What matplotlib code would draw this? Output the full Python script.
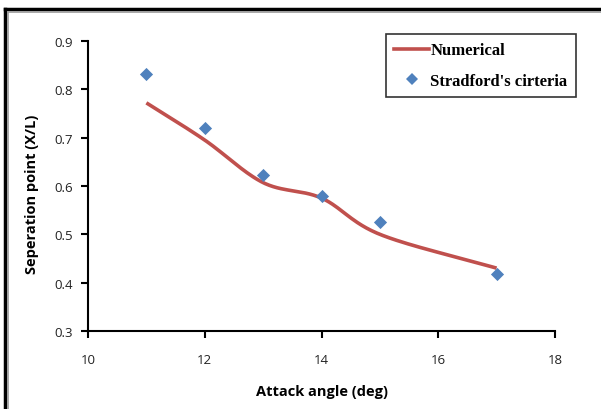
import numpy as np
import matplotlib
matplotlib.use("Agg")
import matplotlib.pyplot as plt
from matplotlib.lines import Line2D

# Data
angles_num = [11, 12, 13, 14, 15, 17]
sep_num = [0.772, 0.695, 0.607, 0.575, 0.500, 0.430]
angles_exp = [11, 12, 13, 14, 15, 17]
sep_exp = [0.832, 0.720, 0.623, 0.579, 0.525, 0.418]
xticks = [10, 12, 14, 16, 18]
yticks = [0.3, 0.4, 0.5, 0.6, 0.7, 0.8, 0.9]


def smooth(xs, ys, n=30):
    # Bezier smoothing through the points (like Excel smoothed line)
    xs = np.asarray(xs, float); ys = np.asarray(ys, float)
    px = np.concatenate([[2*xs[0]-xs[1]], xs, [2*xs[-1]-xs[-2]]])
    py = np.concatenate([[2*ys[0]-ys[1]], ys, [2*ys[-1]-ys[-2]]])
    ox, oy = [], []
    for i in range(1, len(px)-2):
        t = np.linspace(0, 1, n)
        p0, p1, p2, p3 = [np.array([px[j], py[j]]) for j in (i-1, i, i+1, i+2)]
        c1 = p1 + (p2 - p0) / 6
        c2 = p2 - (p3 - p1) / 6
        pts = ((1-t)**3)[:, None]*p1 + (3*(1-t)**2*t)[:, None]*c1 + (3*(1-t)*t**2)[:, None]*c2 + (t**3)[:, None]*p2
        ox.extend(pts[:, 0]); oy.extend(pts[:, 1])
    return np.array(ox), np.array(oy)


fig = plt.figure(figsize=(6.01, 4.10), dpi=100)
W, H = 601, 410
ax = fig.add_axes([88/W, 1-332/H, (555-88)/W, (332-42)/H])

sx, sy = smooth(angles_num, sep_num)
ax.plot(sx, sy, color="#C0504D", lw=2.6, solid_capstyle="butt", zorder=2)
ax.scatter(angles_exp, sep_exp, marker="D", s=45, color="#4F81BD", zorder=3, linewidths=0)

ax.set_xlim(10, 18)
ax.set_ylim(0.3, 0.9)
ax.set_xticks(xticks)
ax.set_yticks(yticks)
ax.set_xticklabels([str(v) for v in xticks])
ax.set_yticklabels([f"{v:.1f}" for v in yticks])
for s in ("top", "right"):
    ax.spines[s].set_visible(False)
for s in ("left", "bottom"):
    ax.spines[s].set_linewidth(1.5)
ax.tick_params(direction="out", length=5, width=1.5, labelsize=9.5, pad=6)
ax.tick_params(axis="x", pad=11)
for lab in ax.get_xticklabels() + ax.get_yticklabels():
    lab.set_fontfamily("Open Sans")
    lab.set_color("#222222")

fig.text(322/W, 1-392/H, "Attack angle (deg)", ha="center", va="center",
         fontsize=10.5, fontweight="bold", family="Open Sans")
fig.text(32/W, 1-194/H, "Seperation point (X/L)", ha="center", va="center",
         rotation=90, fontsize=10.5, fontweight="bold", family="Open Sans")

handles = [Line2D([], [], color="#C0504D", lw=2.6),
           Line2D([], [], marker="D", ls="none", color="#4F81BD", markersize=6.5, markeredgewidth=0)]
leg = fig.legend(handles, ["Numerical", "Stradford's cirteria"], loc="upper left",
                 bbox_to_anchor=(386/W, 1-35/H), borderaxespad=0, frameon=True, fancybox=False,
                 edgecolor="black", handlelength=2.1, handletextpad=0.05,
                 borderpad=0.5, labelspacing=0.85,
                 prop={"family": "Liberation Serif", "weight": "bold", "size": 12})
leg.get_frame().set_linewidth(1.2)

# outer border (top and left visible)
fig.add_artist(Line2D([5/W, 1], [1-10/H, 1-10/H], color="black", lw=2.5))
fig.add_artist(Line2D([5/W, 5/W], [0, 1-10/H], color="black", lw=2.5))
fig.add_artist(Line2D([8/W, 1], [1-13/H, 1-13/H], color="#999999", lw=1.2))
fig.add_artist(Line2D([8/W, 8/W], [0, 1-13/H], color="#999999", lw=1.2))

fig.savefig("out.png", dpi=100)
